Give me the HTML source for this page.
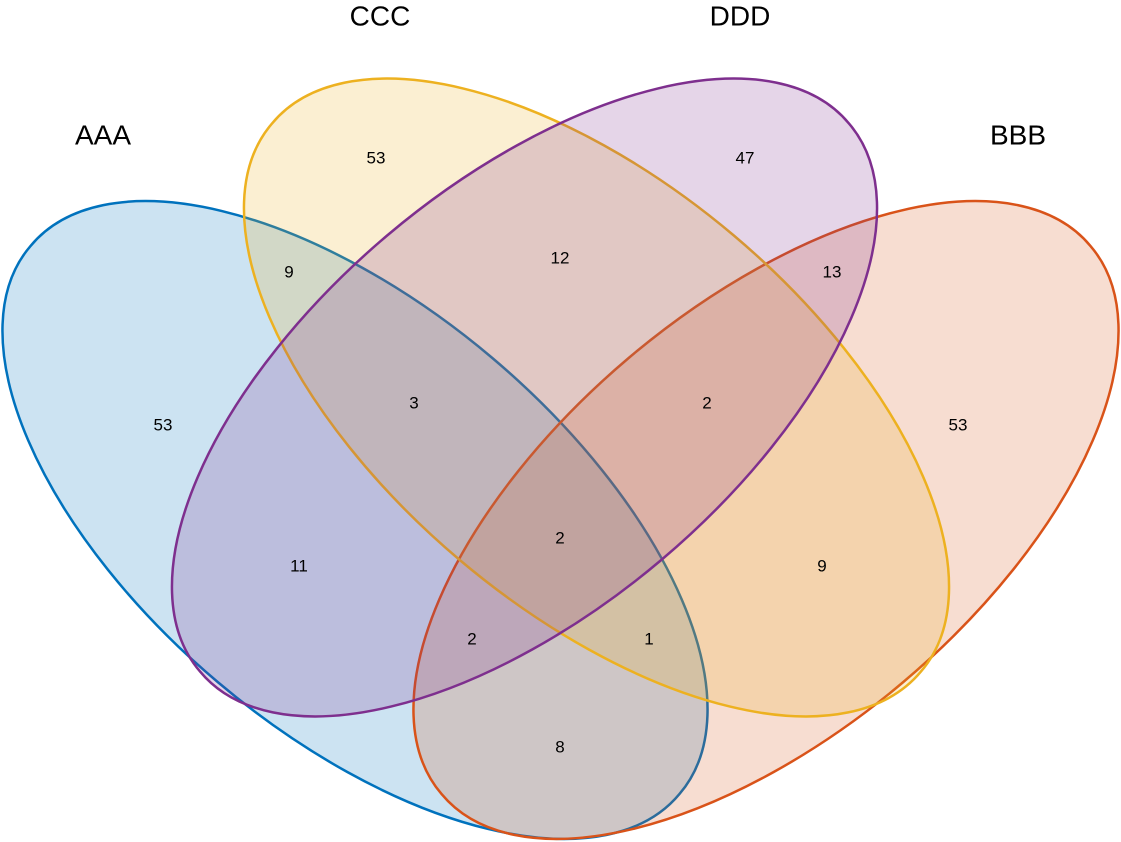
<!DOCTYPE html>
<html><head><meta charset="utf-8"><style>
html,body{margin:0;padding:0;background:#fff;width:1121px;height:842px;overflow:hidden;}
svg{display:block;}
text{font-family:"Liberation Sans",Arial,sans-serif;fill:#000;}
.n{font-size:17px;text-anchor:middle;dominant-baseline:central;}
.t{font-size:28px;text-anchor:middle;dominant-baseline:central;}
</style></head><body>
<svg width="1121" height="842" viewBox="0 0 1121 842" xmlns="http://www.w3.org/2000/svg" overflow="hidden">
<g stroke-width="2.5">
<path d="M30.6 245.9 A424.7 211.4 40.2 1 1 679.4 794.1 A424.7 211.4 40.2 1 1 30.6 245.9Z" fill="#0072BD" fill-opacity="0.2" stroke="#0072BD"/>
<path d="M441.6 794.1 A424.7 211.4 -40.2 1 1 1090.4 245.9 A424.7 211.4 -40.2 1 1 441.6 794.1Z" fill="#D95319" fill-opacity="0.2" stroke="#D95319"/>
<path d="M272.1 123.4 A424.7 211.4 40.2 1 1 920.9 671.6 A424.7 211.4 40.2 1 1 272.1 123.4Z" fill="#EDB120" fill-opacity="0.2" stroke="#EDB120"/>
<path d="M200.1 671.6 A424.7 211.4 -40.2 1 1 848.9 123.4 A424.7 211.4 -40.2 1 1 200.1 671.6Z" fill="#7E2F8E" fill-opacity="0.2" stroke="#7E2F8E"/>
</g>
<text class="t" x="103" y="135">AAA</text>
<text class="t" x="380" y="16">CCC</text>
<text class="t" x="740" y="16">DDD</text>
<text class="t" x="1018" y="135">BBB</text>
<text class="n" x="376" y="158">53</text>
<text class="n" x="745" y="158">47</text>
<text class="n" x="289" y="272">9</text>
<text class="n" x="560" y="258">12</text>
<text class="n" x="832" y="272">13</text>
<text class="n" x="163" y="425">53</text>
<text class="n" x="414" y="403">3</text>
<text class="n" x="707" y="403">2</text>
<text class="n" x="958" y="425">53</text>
<text class="n" x="560" y="538">2</text>
<text class="n" x="299" y="566">11</text>
<text class="n" x="822" y="566">9</text>
<text class="n" x="472" y="639">2</text>
<text class="n" x="649" y="639">1</text>
<text class="n" x="560" y="747">8</text>
</svg>
</body></html>
